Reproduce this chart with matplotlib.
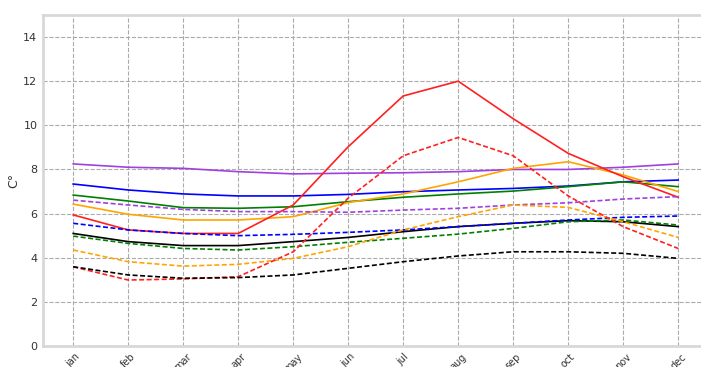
import matplotlib
matplotlib.use("Agg")
import matplotlib.pyplot as plt

# 月ラベル
months = ["jan", "feb", "mar", "apr", "may", "jun",
          "jul", "aug", "sep", "oct", "nov", "dec"]

# 実線の系列（C°）
purple_solid = [8.25, 8.1, 8.05, 7.9, 7.8, 7.83, 7.85, 7.9, 8.0, 8.0, 8.1, 8.25]
blue_solid = [7.34, 7.07, 6.89, 6.8, 6.8, 6.87, 6.99, 7.07, 7.14, 7.25, 7.44, 7.52]
green_solid = [6.84, 6.57, 6.27, 6.24, 6.31, 6.54, 6.74, 6.89, 7.02, 7.22, 7.44, 7.22]
orange_solid = [6.43, 5.97, 5.71, 5.71, 5.86, 6.5, 6.89, 7.44, 8.05, 8.35, 7.75, 7.0]
red_solid = [5.94, 5.26, 5.1, 5.1, 6.39, 9.03, 11.33, 12.0, 10.3, 8.73, 7.67, 6.74]
black_solid = [5.1, 4.73, 4.55, 4.55, 4.73, 4.92, 5.18, 5.41, 5.56, 5.68, 5.63, 5.41]

# 破線の系列（C°）
purple_dash = [6.61, 6.39, 6.19, 6.09, 6.09, 6.06, 6.16, 6.24, 6.39, 6.49, 6.66, 6.77]
blue_dash = [5.56, 5.26, 5.1, 5.0, 5.06, 5.15, 5.26, 5.41, 5.56, 5.71, 5.83, 5.89]
green_dash = [4.98, 4.65, 4.42, 4.35, 4.5, 4.7, 4.88, 5.07, 5.33, 5.63, 5.71, 5.48]
orange_dash = [4.35, 3.82, 3.62, 3.7, 3.97, 4.5, 5.26, 5.86, 6.39, 6.28, 5.63, 4.92]
red_dash = [3.59, 2.99, 3.04, 3.14, 4.27, 6.7, 8.62, 9.45, 8.62, 6.8, 5.41, 4.42]
black_dash = [3.59, 3.22, 3.07, 3.1, 3.22, 3.52, 3.82, 4.08, 4.27, 4.27, 4.2, 3.97]

colors = {
    "purple": "#a040e0",
    "blue": "#0000ff",
    "green": "#008000",
    "orange": "#ffa500",
    "red": "#ff2020",
    "black": "#000000",
}

solid_series = [("purple", purple_solid), ("blue", blue_solid), ("green", green_solid),
                ("orange", orange_solid), ("red", red_solid), ("black", black_solid)]
dash_series = [("purple", purple_dash), ("blue", blue_dash), ("green", green_dash),
               ("orange", orange_dash), ("red", red_dash), ("black", black_dash)]

fig = plt.figure(figsize=(7.01, 3.67), dpi=100)
# 右端は画像の外まではみ出させる
ax = fig.add_axes([0.0613, 0.0572, 0.965, 0.902])

x = list(range(len(months)))
for name, vals in solid_series:
    ax.plot(x, vals, color=colors[name], linewidth=1.2, linestyle="-")
for name, vals in dash_series:
    ax.plot(x, vals, color=colors[name], linewidth=1.2, linestyle="--", dashes=(3, 1.5))

ax.set_xlim(-0.55, 11.75)
ax.set_ylim(0, 15)
ax.set_yticks(range(0, 15, 2))
ax.set_xticks(x)
ax.set_xticklabels(months, rotation=45, fontsize=7, color="#333333")
ax.tick_params(axis="y", labelsize=8, labelcolor="#333333")
ax.tick_params(length=0, pad=4)

ax.grid(True, linestyle="--", color="#aaaaaa", linewidth=0.8)
ax.set_axisbelow(True)
for side in ["left", "bottom", "top", "right"]:
    ax.spines[side].set_color("#d8d8d8")
    ax.spines[side].set_linewidth(2)

ax.set_ylabel("C°", fontsize=9, color="#333333", labelpad=2)

fig.savefig("out.png", dpi=100)
